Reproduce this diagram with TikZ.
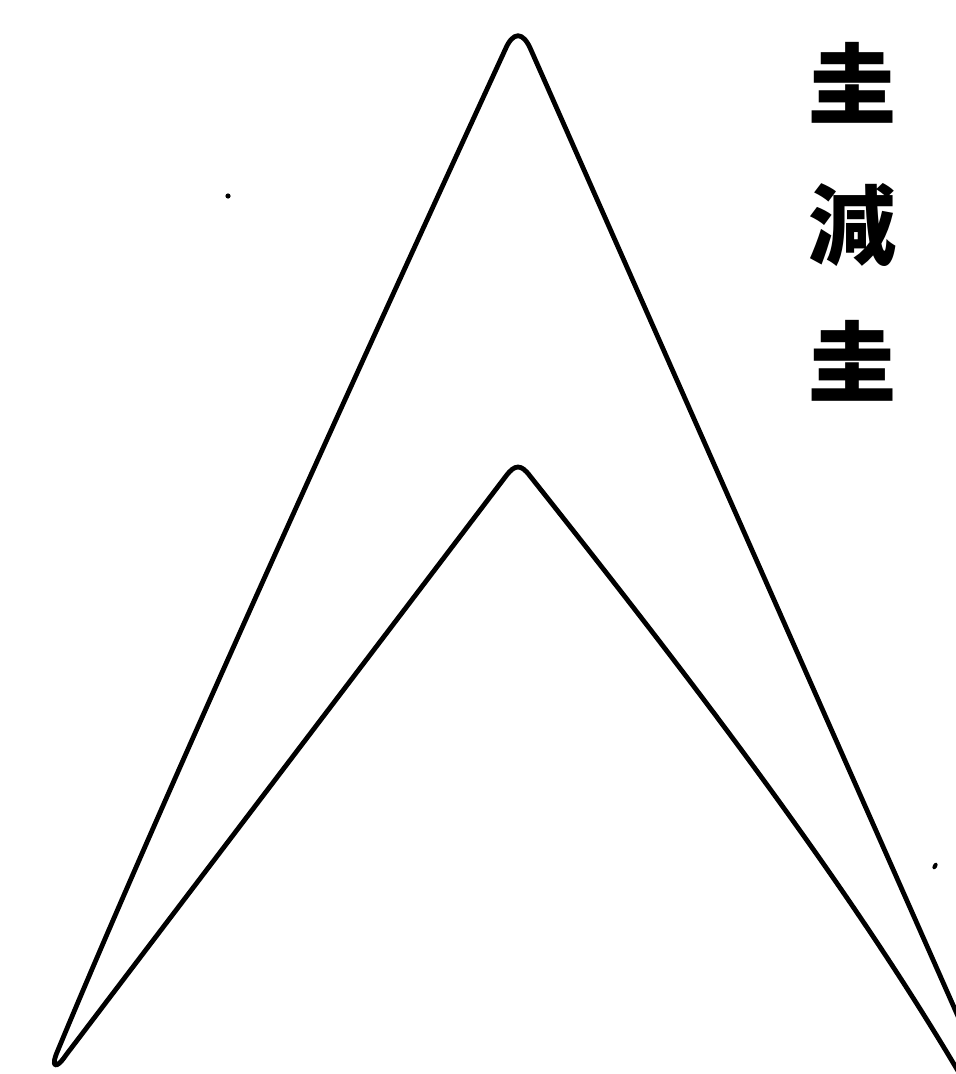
\documentclass[tikz,border=0pt]{standalone}
\usepackage{fontspec}
\newfontfamily\cjk{Noto Sans CJK TC}
\begin{document}
\begin{tikzpicture}[x=1pt,y=-1pt,
  edge/.style={line width=4.8pt,line join=round,line cap=round},
  glyph/.style={font=\cjk\bfseries\fontsize{88}{88}\selectfont,inner sep=0pt}]
\useasboundingbox (0,0) rectangle (956,1074);
\begin{scope}
\clip (0,0) rectangle (956,1074);
% chevron outline
\draw[edge] (995,1100) -- (531,50)
  .. controls (523,31) and (513,31) .. (505,50)
  .. controls (390,300) and (170,780) .. (58,1050)
  .. controls (50,1068) and (56,1070) .. (66,1055)
  -- (506,476)
  .. controls (515,464) and (521,464) .. (530,476)
  .. controls (700,690) and (860,900) .. (975,1100);
\end{scope}
% stray marks of the print
\fill (228,196) circle (2.6pt);
\fill[rotate around={-30:(935,866)}] (935,866) ellipse (2.2pt and 3.6pt);
% vertical text
\node[glyph] (t1) at (852,83) {圭};
\node[glyph] (t2) at (852,225) {減};
\node[glyph] (t3) at (852,361) {圭};
\end{tikzpicture}
\end{document}
